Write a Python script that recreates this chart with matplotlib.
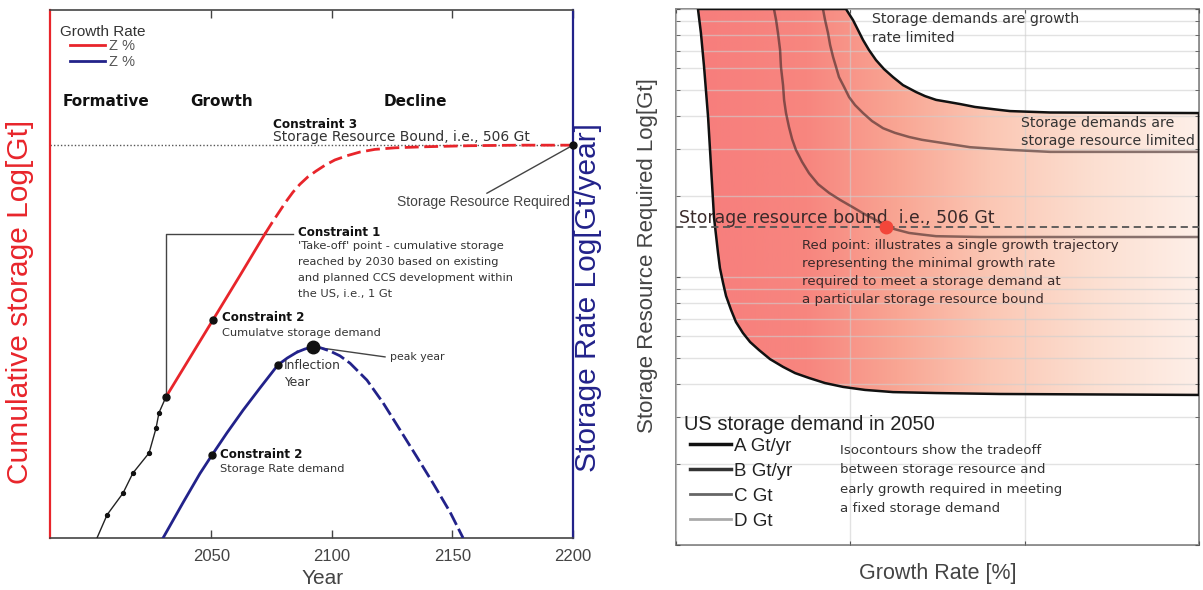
import numpy as np
import matplotlib
matplotlib.use("Agg")
import matplotlib.pyplot as plt
from matplotlib.colors import LinearSegmentedColormap
from matplotlib.lines import Line2D
from matplotlib.patches import Polygon

plt.rcParams["font.family"] = ["Liberation Sans", "DejaVu Sans"]
ANNOT = "DejaVu Sans"

# ---------------- left panel: storage trajectory (relative log units) ----------------
hist_years = [2002.5, 2006.7, 2013.3, 2017.4, 2024.1, 2027.0, 2028.2, 2031.1]
hist_cum = [0.0, 4.4, 8.5, 12.3, 16.1, 20.8, 23.7, 26.7]

cum_years = [2031.1, 2050.6, 2061.8, 2072.2, 2075.1, 2078.0, 2080.9, 2083.8, 2086.7,
             2090.0, 2093.4, 2097.1, 2101.2, 2106.2, 2111.6, 2117.8, 2126.1, 2138.6,
             2157.3, 2178.0, 2200.0]
cum_vals = [26.7, 41.3, 49.7, 57.6, 59.7, 61.7, 63.7, 65.5, 67.0,
            68.4, 69.5, 70.6, 71.6, 72.4, 73.1, 73.6, 73.9, 74.1,
            74.3, 74.4, 74.4]
CUM_SOLID = 4  # solid segment ends at the 4th point, dashed afterwards

rate_years = [2029.9, 2038.2, 2045.2, 2050.2, 2056.4, 2063.1, 2070.1, 2077.6, 2081.5,
              2085.5, 2088.8, 2092.1, 2095.4, 2099.2, 2103.3, 2107.5, 2114.5, 2121.2,
              2128.2, 2135.3, 2141.9, 2149.0, 2154.4]
rate_vals = [0.0, 6.7, 12.2, 15.7, 19.9, 24.2, 28.4, 32.8, 34.1,
             35.2, 35.8, 36.2, 36.0, 35.4, 34.5, 33.1, 29.9, 25.6,
             20.5, 15.3, 10.4, 4.9, 0.0]
RATE_SOLID = 10
I_DEMAND, I_INFLECT, I_PEAK = 3, 7, 11

resource_bound = 74.4
year_ticks = [2050, 2100, 2150, 2200]
year_labels = ["2050", "2100", "2150", "2200"]
phase_names = ["Formative", "Growth", "Decline"]
phase_years = [2006.2, 2054.4, 2134.4]
growth_labels = ["Z %", "Z %"]

# ---------------- right panel: resource vs growth-rate isocontours ----------------
A_x = [0.126, 0.143, 0.161, 0.184, 0.201, 0.218, 0.241, 0.252, 0.270, 0.287, 0.316,
       0.344, 0.384, 0.425, 0.476, 0.539, 0.614, 0.683, 0.763, 0.855, 0.958, 1.084,
       1.245, 1.492, 1.859, 3.0]
A_y = [100, 81.3, 60.8, 39.5, 25.7, 16.7, 12.3, 10.8, 9.5, 8.50, 7.53,
       6.79, 6.18, 5.72, 5.34, 4.94, 4.62, 4.38, 4.20, 4.02, 3.89, 3.79,
       3.72, 3.69, 3.66, 3.63]
B_x = [0.975, 0.993, 1.015, 1.044, 1.073, 1.107, 1.147, 1.193, 1.245, 1.302, 1.377,
       1.429, 1.492, 1.561, 1.629, 1.715, 1.859, 1.916, 2.146, 3.0]
B_y = [100, 95.8, 91.0, 83.5, 76.6, 70.3, 64.5, 59.7, 55.7, 52.0, 49.0,
       47.3, 45.8, 45.0, 44.2, 43.1, 42.0, 41.6, 41.1, 40.9]
C_x = [0.843, 0.855, 0.872, 0.884, 0.901, 0.918, 0.935, 0.964, 0.993, 1.027, 1.073,
       1.124, 1.188, 1.256, 1.337, 1.411, 1.492, 1.687, 1.916, 2.146, 3.0]
C_y = [100, 91.0, 81.3, 73.4, 66.2, 60.8, 55.7, 51.2, 46.9, 43.8, 40.9,
       38.2, 35.9, 34.5, 33.3, 32.5, 31.9, 30.5, 29.8, 29.3, 29.3]
D_x = [0.562, 0.574, 0.585, 0.597, 0.602, 0.614, 0.620, 0.631, 0.648, 0.666, 0.688,
       0.723, 0.763, 0.815, 0.878, 0.941, 1.015, 1.079, 1.147, 1.205, 1.268, 1.337,
       1.411, 1.492, 1.744, 3.0]
D_y = [100, 91.0, 81.3, 70.3, 60.8, 52.0, 45.8, 40.9, 36.3, 32.7, 29.8,
       26.9, 24.4, 22.2, 20.6, 19.4, 18.2, 17.2, 16.3, 15.4, 15.0, 14.6,
       14.4, 14.2, 14.1, 14.1]
bound_gt = 15.4
RED_PT = 19  # index on D where it meets the resource bound
demand_labels = ["A Gt/yr", "B Gt/yr", "C Gt", "D Gt"]

RED = "#e8252b"
NAVY = "#22228a"
TXT = "#333333"

fig = plt.figure(figsize=(12.03, 5.90), dpi=100)
axL = fig.add_axes([50 / 1203, 52 / 590, 523 / 1203, 528 / 590])
axR = fig.add_axes([676 / 1203, 45 / 590, 523 / 1203, 536 / 590])

# ======================= left panel =======================
axL.set_xlim(1983, 2200)
axL.set_ylim(0, 100)
axL.axhline(resource_bound, color="#555555", ls=(0, (1, 1.5)), lw=1.0, zorder=1)

axL.plot(hist_years, hist_cum, color="#222222", lw=1.0, zorder=3)
axL.plot(hist_years[1:-1], hist_cum[1:-1], "o", color="#111111", ms=2.8, zorder=4)

axL.plot(cum_years[:CUM_SOLID], cum_vals[:CUM_SOLID], color=RED, lw=2.0, zorder=3)
axL.plot(cum_years[CUM_SOLID - 1:], cum_vals[CUM_SOLID - 1:], color=RED, lw=2.0,
         ls=(0, (5, 2)), zorder=3)

axL.plot(rate_years[:RATE_SOLID], rate_vals[:RATE_SOLID], color=NAVY, lw=2.0, zorder=3)
axL.plot(rate_years[RATE_SOLID - 1:], rate_vals[RATE_SOLID - 1:], color=NAVY, lw=2.0,
         ls=(0, (5, 1.6)), zorder=3)

# marked points
axL.plot(hist_years[-1], hist_cum[-1], "o", color="#111", ms=5, zorder=5)
axL.plot(cum_years[1], cum_vals[1], "o", color="#111", ms=5, zorder=5)
axL.plot(rate_years[I_DEMAND], rate_vals[I_DEMAND], "o", color="#111", ms=5, zorder=5)
axL.plot(rate_years[I_INFLECT], rate_vals[I_INFLECT], "o", color="#111", ms=5, zorder=5)
axL.plot(rate_years[I_PEAK], rate_vals[I_PEAK], "o", color="#111", ms=9, zorder=5)
axL.plot(cum_years[-1], cum_vals[-1], "o", color="#111", ms=5, zorder=6, clip_on=False)

# phase headings
for name, yr in zip(phase_names, phase_years):
    axL.text(yr, 82.6, name, ha="center", va="center", fontsize=11,
             fontweight="bold", family=ANNOT, color="#111")

# Constraint 3
axL.text(2075.5, 78.4, "Constraint 3", fontsize=8.7, fontweight="bold",
         family=ANNOT, color="#111", va="center")
axL.text(2075.5, 75.9, "Storage Resource Bound, i.e., 506 Gt", fontsize=10,
         family=ANNOT, color=TXT, va="center")

# Storage resource required
axL.plot([cum_years[-1], 2164.3], [cum_vals[-1], 65.3], color="#444", lw=1.0, zorder=2)
axL.text(2127.0, 63.6, "Storage Resource Required", fontsize=10, color="#444",
         va="center")

# Constraint 1 (take-off point)
axL.plot([hist_years[-1], hist_years[-1], 2083.8], [hist_cum[-1], 57.6, 57.6],
         color="#444", lw=1.0, zorder=2)
axL.text(2085.9, 57.8, "Constraint 1", fontsize=8.6, fontweight="bold",
         family=ANNOT, color="#111", va="center")
axL.text(2085.9, 56.2,
         "'Take-off' point - cumulative storage\nreached by 2030 based on existing\n"
         "and planned CCS development within\nthe US, i.e., 1 Gt",
         fontsize=8.2, family=ANNOT, color=TXT, va="top", linespacing=1.72)

# Constraint 2 (cumulative)
axL.text(2054.4, 41.7, "Constraint 2", fontsize=8.6, fontweight="bold",
         family=ANNOT, color="#111", va="center")
axL.text(2054.4, 38.8, "Cumulatve storage demand", fontsize=8.2,
         family=ANNOT, color=TXT, va="center")

# peak / inflection
axL.plot([rate_years[I_PEAK], 2122.0], [rate_vals[I_PEAK], 34.3], color="#444", lw=1.0,
         zorder=2)
axL.text(2124.1, 34.3, "peak year", fontsize=7.8, family=ANNOT, color=TXT, va="center")
axL.text(2080.1, 33.9, "Inflection\nYear", fontsize=8.8, family=ANNOT, color=TXT,
         va="top", linespacing=1.35)

# Constraint 2 (rate)
axL.text(2053.5, 15.9, "Constraint 2", fontsize=8.6, fontweight="bold",
         family=ANNOT, color="#111", va="center")
axL.text(2053.5, 13.1, "Storage Rate demand", fontsize=8.2,
         family=ANNOT, color=TXT, va="center")

axL.set_xticks(year_ticks)
axL.set_xticklabels(year_labels)
axL.set_yticks([])
axL.tick_params(axis="x", direction="in", length=6, width=1.0, top=True,
                labelsize=12, labelcolor="#444", color="#444", pad=8)
for side in ("top", "bottom"):
    axL.spines[side].set_color("#444")
    axL.spines[side].set_linewidth(1.2)
axL.spines["left"].set_color(RED)
axL.spines["left"].set_linewidth(1.6)
axL.spines["right"].set_color(NAVY)
axL.spines["right"].set_linewidth(1.6)

axL.text(0.019, 0.958, "Growth Rate", transform=axL.transAxes, fontsize=11,
         color=TXT, va="center")
legL = axL.legend([Line2D([], [], color=RED, lw=2), Line2D([], [], color=NAVY, lw=2)],
                  growth_labels, loc="upper left", bbox_to_anchor=(0.038, 0.9455),
                  frameon=False, fontsize=10.5, handlelength=2.4, handletextpad=0.3,
                  labelspacing=0.17, borderpad=0.0, borderaxespad=0.0)
for t in legL.get_texts():
    t.set_color("#555")

fig.text(323 / 1203, 1 - 579 / 590, "Year", fontsize=15, color="#444",
         ha="center", va="center")
fig.text(20 / 1203, 1 - 302 / 590, "Cumulative storage Log[Gt]", fontsize=21.5,
         color=RED, rotation=90, ha="center", va="center")
fig.text(588 / 1203, 1 - 298 / 590, "Storage Rate Log[Gt/year]", fontsize=21.5,
         color=NAVY, rotation=90, ha="center", va="center")

# ======================= right panel =======================
axR.set_yscale("log")
cmap = LinearSegmentedColormap.from_list(
    "fade", [(0.0, "#f77c7c"), (0.25, "#f7867f"), (0.42, "#f9a593"),
             (0.6, "#fbc7b4"), (0.8, "#fcdfd1"), (1.0, "#feefe8")])
grad = np.linspace(0, 1, 512).reshape(1, -1)
im = axR.imshow(grad, extent=(0, 3, 1, 100), aspect="auto", cmap=cmap,
                origin="lower", zorder=1, interpolation="bilinear")
verts = list(zip(A_x, A_y)) + list(zip(B_x[::-1], B_y[::-1]))
region = Polygon(verts, closed=True, transform=axR.transData, fc="none",
                 ec="#111111", lw=1.8, zorder=4, joinstyle="round")
axR.add_patch(region)
im.set_clip_path(region)

axR.plot(C_x, C_y, color="#3b2424", alpha=0.6, lw=1.8, zorder=3)
axR.plot(D_x, D_y, color="#3b2424", alpha=0.6, lw=1.8, zorder=3)
axR.axhline(bound_gt, color="#555555", ls=(0, (4, 2.5)), lw=1.3, zorder=5)
axR.plot(D_x[RED_PT], D_y[RED_PT], "o", color="#f2463a", ms=9, zorder=6)

axR.set_xlim(0, 3)
axR.set_ylim(1, 100)
axR.set_xticks([0, 1, 2, 3])
axR.set_axisbelow(False)
axR.grid(True, which="both", axis="y", color="#cfcfcf", lw=1.0, alpha=0.6)
axR.grid(True, which="major", axis="x", color="#cfcfcf", lw=1.0, alpha=0.6)
axR.tick_params(which="both", direction="in", length=3, left=True, right=True,
                top=True, bottom=True, labelleft=False, labelbottom=False,
                color="#555555")
for s in axR.spines.values():
    s.set_color("#8c8c8c")
    s.set_linewidth(1.4)

axR.text(0.375, 0.994, "Storage demands are growth\nrate limited", transform=axR.transAxes,
         fontsize=10.2, family=ANNOT, color=TXT, va="top", linespacing=1.45)
axR.text(0.660, 0.801, "Storage demands are\nstorage resource limited",
         transform=axR.transAxes, fontsize=10.2, family=ANNOT, color=TXT, va="top",
         linespacing=1.4)
axR.text(0.005, 0.601, "Storage resource bound  i.e., 506 Gt", transform=axR.transAxes,
         fontsize=12.4, family=ANNOT, color="#3a2a2a", va="baseline")
axR.text(0.241, 0.571,
         "Red point: illustrates a single growth trajectory\nrepresenting the minimal growth rate\n"
         "required to meet a storage demand at\na particular storage resource bound",
         transform=axR.transAxes, fontsize=9.6, family=ANNOT, color="#3a2a2a", va="top",
         linespacing=1.5)
axR.text(0.314, 0.188,
         "Isocontours show the tradeoff\nbetween storage resource and\n"
         "early growth required in meeting\na fixed storage demand",
         transform=axR.transAxes, fontsize=9.6, family=ANNOT, color=TXT, va="top",
         linespacing=1.62)

axR.text(0.0153, 0.2257, "US storage demand in 2050", transform=axR.transAxes,
         fontsize=14.5, color="#222", va="center")
handles = [Line2D([], [], color="#111111", lw=2.5), Line2D([], [], color="#333333", lw=2.5),
           Line2D([], [], color="#666666", lw=2.0), Line2D([], [], color="#aaaaaa", lw=2.0)]
legR = axR.legend(handles, demand_labels, loc="upper left", bbox_to_anchor=(0.0268, 0.200),
                  frameon=False, fontsize=13.5, handlelength=2.2, handletextpad=0.15,
                  labelspacing=0.42, borderpad=0.0, borderaxespad=0.0)
for t in legR.get_texts():
    t.set_color("#222")

fig.text(648 / 1203, 1 - 256 / 590, "Storage Resource Required Log[Gt]", fontsize=16,
         color="#444", rotation=90, ha="center", va="center")
fig.text(938 / 1203, 1 - 573 / 590, "Growth Rate [%]", fontsize=15.5, color="#444",
         ha="center", va="center")

fig.savefig("out.png", dpi=100, facecolor="white")
